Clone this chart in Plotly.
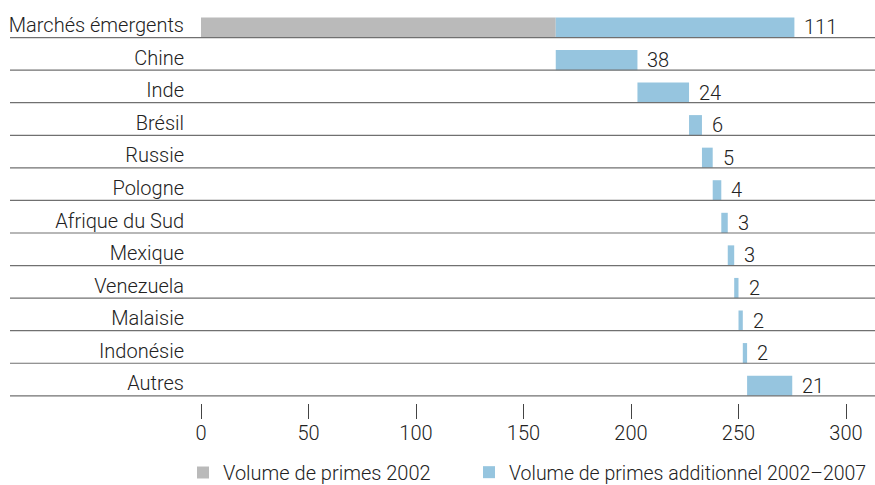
import plotly.graph_objects as go

categories = ["Marchés émergents", "Chine", "Inde", "Brésil", "Russie", "Pologne",
              "Afrique du Sud", "Mexique", "Venezuela", "Malaisie", "Indonésie", "Autres"]
base_2002 = [165]
additional = [111, 38, 24, 6, 5, 4, 3, 3, 2, 2, 2, 21]
x_ticks = [0, 50, 100, 150, 200, 250, 300]

GREY = "#bababa"
BLUE = "#96c5df"
FONT = "Roboto"
TXT = "#222222"
FS = 20

n = len(categories)
ypos = list(range(n))

# waterfall bases for additional volumes
bases = [base_2002[0]]
running = base_2002[0]
for v in additional[1:]:
    bases.append(running)
    running += v

BW = 0.62
OFF = -0.12

fig = go.Figure()
fig.add_trace(go.Bar(
    y=[0], x=base_2002, orientation="h", base=[0],
    width=BW, offset=OFF, marker=dict(color=GREY, line=dict(width=0)),
    name="Volume de primes 2002", hoverinfo="skip", legend="legend",
))
fig.add_trace(go.Bar(
    y=ypos, x=additional, base=bases, orientation="h",
    width=BW, offset=OFF, marker=dict(color=BLUE, line=dict(width=0)),
    name="Volume de primes additionnel 2002–2007", hoverinfo="skip", legend="legend2",
))

annotations = []
for i, (b, v) in enumerate(zip(bases, additional)):
    annotations.append(dict(x=b + v, y=i + OFF + BW / 2, xref="x", yref="y",
                            text=str(v), showarrow=False, xanchor="left", yanchor="middle",
                            xshift=8, font=dict(family=FONT, size=FS, color=TXT, weight=300)))

W, H = 875, 492
L, R = 201, 0
plot_w = W - L - R
px_per_unit = 645 / 300
x_max = plot_w / px_per_unit

shapes = []
for i in range(n):
    shapes.append(dict(type="line", xref="paper", yref="y",
                       x0=(10 - L) / plot_w, x1=1, y0=i + 0.5, y1=i + 0.5,
                       line=dict(color="#707070", width=1.2), layer="above"))

leg_common = dict(orientation="h", xref="container", yref="container", y=0, yanchor="bottom",
                  xanchor="left", itemclick=False, bgcolor="rgba(0,0,0,0)")

fig.update_layout(
    width=W, height=H,
    margin=dict(l=L, r=R, t=5, b=89),
    plot_bgcolor="white", paper_bgcolor="white",
    barmode="overlay",
    showlegend=True,
    legend=dict(x=183 / W, font=dict(family=FONT, size=FS, color=TXT, weight=300), **leg_common),
    legend2=dict(x=469 / W, font=dict(family=FONT, size=19.5, color=TXT, weight=300), **leg_common),
    shapes=shapes,
    annotations=annotations,
    xaxis=dict(range=[0, x_max], tickvals=x_ticks, ticktext=[str(t) for t in x_ticks],
               showgrid=False, zeroline=False, showline=False,
               ticks="outside", ticklen=15, tickwidth=1, tickcolor="#444",
               ticklabelstandoff=-3,
               tickfont=dict(family=FONT, size=FS, color=TXT, weight=300)),
    yaxis=dict(range=[11.72, -0.5], tickvals=[i + 0.12 for i in ypos], ticktext=categories,
               showgrid=False, zeroline=False, showline=False, ticks="",
               ticklabelstandoff=16,
               tickfont=dict(family=FONT, size=FS, color=TXT, weight=300)),
    font=dict(family=FONT, color=TXT),
)

fig.write_html("out.html", config={"displayModeBar": False},
               post_script="document.body.style.margin='0';document.body.style.overflow='hidden';")
